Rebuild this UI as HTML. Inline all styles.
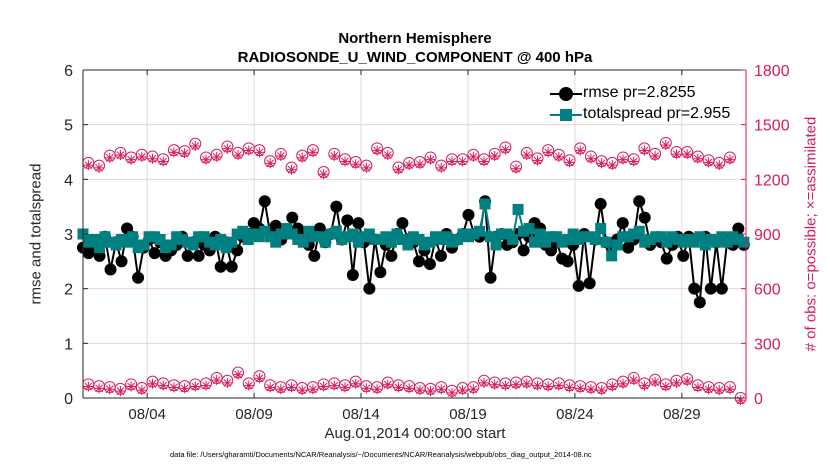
<!DOCTYPE html>
<html><head><meta charset="utf-8"><style>
body{margin:0;background:#fff;}
svg{display:block;font-family:"Liberation Sans",sans-serif;}
</style></head><body>
<svg id="c" width="830" height="470">
<rect width="830" height="470" fill="#fff"/>
</svg>
<script>
const possibleTop=[1290,1275,1330,1345,1320,1335,1325,1310,1360,1355,1395,1320,1335,1380,1345,1370,1360,1300,1340,1265,1330,1360,1240,1340,1310,1295,1275,1370,1345,1265,1290,1295,1320,1275,1310,1310,1335,1310,1340,1375,1270,1345,1315,1360,1335,1305,1370,1325,1300,1290,1320,1310,1370,1340,1400,1350,1350,1325,1305,1290,1320];
const possibleLow=[75,65,60,50,75,55,90,80,70,65,75,80,110,95,140,80,120,70,60,70,55,60,75,80,70,90,65,60,85,70,65,55,50,60,40,55,60,95,85,80,85,90,80,75,80,70,65,60,55,75,90,110,80,100,75,95,105,70,60,55,60,0];
const rmse=[2.75,2.65,2.8,2.6,2.95,2.35,2.85,2.5,3.1,2.95,2.2,2.75,2.9,
2.65,2.85,2.6,2.7,2.8,2.95,2.6,2.85,2.6,2.8,2.7,2.95,
2.4,2.85,2.4,2.7,2.95,3.0,3.2,3.1,3.6,3.0,3.15,2.9,
3.05,3.3,3.1,2.95,2.8,2.6,3.1,2.85,3.0,3.5,2.9,3.25,
2.25,3.2,2.85,2.0,2.9,2.3,2.8,2.6,3.0,3.2,2.9,2.85,
2.5,2.7,2.45,2.9,2.6,3.0,2.75,2.9,3.0,3.35,3.0,2.95,
3.6,2.2,2.95,3.0,2.8,2.85,3.0,2.7,2.95,3.2,3.1,2.8,
2.7,2.85,2.55,2.5,2.8,2.05,3.0,2.1,2.9,3.55,2.85,2.75,
2.9,3.2,2.75,2.9,3.6,3.3,2.8,2.9,2.85,2.55,2.8,2.95,
2.6,2.95,2.0,1.75,2.95,2.0,2.85,2.0,2.9,2.8,3.1,2.8];
const spread=[3.0,2.85,2.9,2.75,2.95,2.85,2.8,2.9,2.85,2.95,2.75,2.8,2.95,
2.95,2.9,2.75,2.8,2.95,2.9,2.85,2.8,2.95,2.95,2.85,2.8,
2.9,2.75,2.85,3.0,3.05,2.9,3.0,2.95,3.05,2.95,2.85,3.0,
3.1,3.0,2.9,2.85,3.05,2.95,2.95,2.85,3.0,3.05,2.9,2.95,
3.0,2.85,2.95,3.0,2.9,2.9,2.95,2.85,3.0,2.9,2.8,2.95,
2.9,2.8,2.85,2.95,2.9,2.95,2.85,2.9,3.0,2.95,3.0,3.05,
3.55,2.95,2.8,3.0,3.0,2.9,3.45,3.05,3.1,2.85,3.0,2.85,
2.95,2.95,2.85,2.9,3.0,2.9,2.95,2.95,2.9,3.1,2.85,2.6,
2.8,2.95,2.95,3.0,3.05,2.85,2.9,2.95,2.95,2.85,2.95,2.9,
2.85,2.9,2.85,2.95,2.8,2.9,2.85,2.95,2.85,2.95,2.9,2.85];
const xTickLabels=["08/04","08/09","08/14","08/19","08/24","08/29"];
const xTickDays=[3,8,13,18,23,28];
const yTicks=[0,1,2,3,4,5,6];
const y2Ticks=[0,300,600,900,1200,1500,1800];

const NS="http://www.w3.org/2000/svg";
const svg=document.getElementById('c');
const L=83,R=746,T=70,B=398,DMAX=31;
const X=d=>L+d/DMAX*(R-L);
const Y=v=>B-v/6*(B-T);
const Y2=v=>B-v/1800*(B-T);
const PINK="#d81b60";
const STEP=30.9/(rmse.length-1);
function el(tag,attrs,parent){const e=document.createElementNS(NS,tag);for(const k in attrs)e.setAttribute(k,attrs[k]);(parent||svg).appendChild(e);return e;}
yTicks.forEach(v=>{const g=el('line',{x1:L,x2:R,y1:Y(v),y2:Y(v),stroke:'#f0d0dc','stroke-width':1});

});
xTickDays.forEach(d=>{const g=el('line',{x1:X(d),x2:X(d),y1:T,y2:B,stroke:'#dddddd','stroke-width':1});

});
function pinkMark(d,v,name){
 const g=el('g',{});
 
 
 const x=X(d),y=Y2(v);
 el('circle',{cx:x,cy:y,r:5.5,fill:'none',stroke:PINK,'stroke-width':1},g);
 const y3=Y2(v-12);
 for(let a=0;a<4;a++){const ang=a*Math.PI/4;el('line',{x1:x-5*Math.cos(ang),y1:y3-5*Math.sin(ang),x2:x+5*Math.cos(ang),y2:y3+5*Math.sin(ang),stroke:PINK,'stroke-width':1},g);}
}
possibleTop.forEach((v,i)=>pinkMark(0.25+i*0.5,v,'obs-count-top-point'));
possibleLow.forEach((v,i)=>pinkMark(0.25+i*0.5,v,'obs-count-low-point'));
const rp=el('polyline',{points:rmse.map((v,i)=>X(i*STEP)+','+Y(v)).join(' '),fill:'none',stroke:'#000','stroke-width':2});


rmse.forEach((v,i)=>{const c=el('circle',{cx:X(i*STEP),cy:Y(v),r:6,fill:'#000'});

});
const sp=el('polyline',{points:spread.map((v,i)=>X(i*STEP)+','+Y(v)).join(' '),fill:'none',stroke:'#008080','stroke-width':2});


spread.forEach((v,i)=>{const c=el('rect',{x:X(i*STEP)-5.5,y:Y(v)-5.5,width:11,height:11,fill:'#008080'});

});
el('line',{x1:L,x2:L,y1:T,y2:B,stroke:'#262626','stroke-width':1});
el('line',{x1:L,x2:R,y1:B,y2:B,stroke:'#262626','stroke-width':1});
el('line',{x1:L,x2:R,y1:T,y2:T,stroke:'#262626','stroke-width':1});
el('line',{x1:R,x2:R,y1:T,y2:B,stroke:PINK,'stroke-width':1});
yTicks.forEach(v=>{el('line',{x1:L,x2:L+5,y1:Y(v),y2:Y(v),stroke:'#262626'});
const t=el('text',{x:L-10,y:Y(v)+6,'text-anchor':'end','font-size':16,fill:'#262626'});t.textContent=v;

});
y2Ticks.forEach(v=>{el('line',{x1:R-5,x2:R,y1:Y2(v),y2:Y2(v),stroke:PINK});
const t=el('text',{x:R+8,y:Y2(v)+6,'font-size':16,fill:PINK});t.textContent=v;

});
xTickDays.forEach((d,i)=>{el('line',{x1:X(d),x2:X(d),y1:B,y2:B-5,stroke:'#262626'});
el('line',{x1:X(d),x2:X(d),y1:T,y2:T+5,stroke:'#262626'});
const t=el('text',{x:X(d),y:B+21,'text-anchor':'middle','font-size':15,fill:'#262626'});t.textContent=xTickLabels[i];

});
</script>
<div style="position:absolute;left:0;top:0;width:830px;height:470px;pointer-events:none;font-family:'Liberation Sans',sans-serif;">
<div style="position:absolute;left:0;width:830px;top:29px;text-align:center;font-weight:bold;font-size:15px;line-height:19px;color:#000;">Northern Hemisphere<br>RADIOSONDE_U_WIND_COMPONENT @ 400 hPa</div>
<div style="position:absolute;left:545px;top:78px;width:200px;height:48px;font-size:16px;color:#000;">
 <div style="position:absolute;left:5px;top:15px;width:32px;height:2px;background:#000"></div>
 <div style="position:absolute;left:14px;top:9px;width:14px;height:14px;border-radius:50%;background:#000"></div>
 <div style="position:absolute;left:38px;top:6px;">rmse pr=2.8255</div>
 <div style="position:absolute;left:5px;top:36px;width:32px;height:2px;background:#008080"></div>
 <div style="position:absolute;left:15px;top:31px;width:12px;height:12px;background:#008080"></div>
 <div style="position:absolute;left:38px;top:27px;">totalspread pr=2.955</div>
</div>
<div style="position:absolute;left:36px;top:234px;transform:translate(-50%,-50%) rotate(-90deg);white-space:nowrap;font-size:15px;color:#262626;">rmse and totalspread</div>
<div style="position:absolute;left:811px;top:234px;transform:translate(-50%,-50%) rotate(-90deg);white-space:nowrap;font-size:15px;color:#d81b60;"># of obs: o=possible; &#215;=assimilated</div>
<div style="position:absolute;left:0;width:830px;top:425px;text-align:center;font-size:15px;color:#262626;">Aug.01,2014 00:00:00 start</div>
<div style="position:absolute;left:170px;top:450px;white-space:nowrap;font-size:7.5px;color:#000;">data file: /Users/gharamti/Documents/NCAR/Reanalysis/~/Documents/NCAR/Reanalysis/webpub/obs_diag_output_2014-08.nc</div>
</div>
</body></html>
